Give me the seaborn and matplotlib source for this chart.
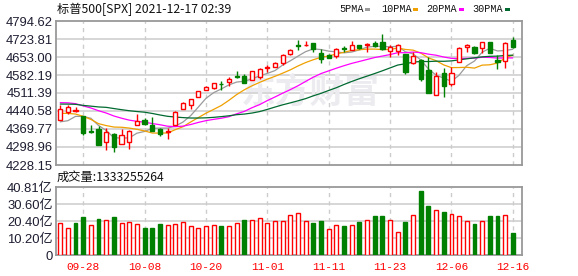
import numpy as np
import pandas as pd
import matplotlib
matplotlib.use("Agg")
import matplotlib.pyplot as plt
from matplotlib.patches import Rectangle
import seaborn as sns

# ---------------- data ----------------
dates = ["09-23", "09-24", "09-27", "09-28", "09-29", "09-30", "10-01", "10-04", "10-05", "10-06",
         "10-07", "10-08", "10-11", "10-12", "10-13", "10-14", "10-15", "10-18", "10-19", "10-20",
         "10-21", "10-22", "10-25", "10-26", "10-27", "10-28", "10-29", "11-01", "11-02", "11-03",
         "11-04", "11-05", "11-08", "11-09", "11-10", "11-11", "11-12", "11-15", "11-16", "11-17",
         "11-18", "11-19", "11-22", "11-23", "11-24", "11-26", "11-29", "11-30", "12-01", "12-02",
         "12-03", "12-06", "12-07", "12-08", "12-09", "12-10", "12-13", "12-14", "12-15", "12-16"]

opens = [4406.75, 4438.04, 4442.12, 4419.54, 4362.41, 4370.67, 4317.16, 4348.84, 4309.87, 4319.57,
         4383.73, 4406.51, 4385.44, 4368.31, 4358.01, 4386.75, 4447.69, 4463.72, 4497.34, 4524.42,
         4532.24, 4546.12, 4553.69, 4578.69, 4580.22, 4562.84, 4572.87, 4610.62, 4613.34, 4630.65,
         4662.93, 4699.26, 4701.48, 4707.25, 4670.26, 4659.39, 4655.24, 4689.30, 4679.42, 4701.50,
         4700.72, 4708.44, 4712.00, 4678.48, 4675.78, 4664.63, 4628.75, 4640.25, 4602.82, 4504.73,
         4589.49, 4548.37, 4631.97, 4690.86, 4691.00, 4687.64, 4710.30, 4642.99, 4636.46, 4719.13]

highs = [4465.40, 4463.12, 4457.30, 4419.54, 4385.57, 4382.55, 4375.19, 4355.51, 4369.23, 4365.57,
         4429.97, 4412.02, 4415.88, 4374.89, 4372.87, 4439.73, 4475.82, 4488.75, 4520.40, 4540.87,
         4551.44, 4559.67, 4572.62, 4598.53, 4584.57, 4597.55, 4608.08, 4620.34, 4635.15, 4663.46,
         4683.00, 4718.50, 4714.92, 4708.53, 4684.85, 4664.55, 4688.47, 4697.42, 4714.95, 4701.50,
         4708.80, 4717.75, 4743.83, 4699.39, 4702.87, 4664.63, 4672.95, 4646.02, 4652.94, 4595.46,
         4608.03, 4612.60, 4694.04, 4705.06, 4695.26, 4713.57, 4710.30, 4660.47, 4712.60, 4731.99]

lows = [4406.75, 4430.27, 4436.19, 4346.33, 4355.08, 4306.24, 4288.52, 4278.94, 4309.87, 4290.49,
        4383.73, 4386.22, 4360.59, 4342.09, 4329.92, 4386.75, 4447.69, 4447.47, 4496.41, 4524.40,
        4526.89, 4524.00, 4537.36, 4569.17, 4551.66, 4562.84, 4567.59, 4595.06, 4613.34, 4621.19,
        4662.59, 4681.32, 4694.39, 4670.87, 4630.86, 4648.31, 4650.77, 4672.86, 4679.42, 4684.41,
        4672.78, 4694.22, 4682.17, 4652.66, 4659.89, 4585.43, 4625.26, 4560.00, 4510.27, 4504.73,
        4495.12, 4540.51, 4631.97, 4674.52, 4665.98, 4670.24, 4667.60, 4606.52, 4611.22, 4687.00]

closes = [4448.98, 4455.48, 4443.11, 4352.63, 4359.46, 4307.54, 4357.04, 4300.46, 4345.72, 4363.55,
          4399.76, 4391.34, 4361.19, 4350.65, 4363.80, 4438.26, 4471.37, 4486.46, 4519.63, 4536.19,
          4549.78, 4544.90, 4566.48, 4574.79, 4551.68, 4596.42, 4605.38, 4613.67, 4630.65, 4660.57,
          4680.06, 4697.53, 4701.70, 4685.25, 4646.71, 4649.27, 4682.85, 4682.80, 4700.90, 4688.67,
          4704.54, 4697.96, 4682.94, 4690.70, 4701.46, 4594.62, 4655.27, 4567.00, 4513.04, 4577.10,
          4538.43, 4591.67, 4686.75, 4701.21, 4667.45, 4712.02, 4668.97, 4634.09, 4709.85, 4692.00]

# closes before the first visible day (needed for the moving averages)
prior_closes = [4460.83, 4468.00, 4479.71, 4448.08, 4400.27, 4405.80, 4441.67, 4479.53, 4486.23, 4496.19,
                4470.00, 4509.37, 4528.79, 4522.68, 4524.09, 4536.95, 4535.43, 4520.03, 4514.07, 4493.28,
                4458.58, 4468.73, 4443.05, 4480.70, 4473.75, 4432.99, 4357.73, 4354.19, 4395.64]

# volume in 亿 (1e8)
volumes = [19.0, 16.0, 19.2, 22.8, 18.0, 21.6, 20.8, 22.8, 19.2, 19.6,
           18.6, 16.2, 16.2, 18.6, 18.0, 18.6, 19.6, 17.2, 16.0, 17.4,
           18.0, 17.4, 17.4, 19.2, 21.0, 21.0, 22.0, 19.2, 20.2, 20.2,
           24.0, 25.0, 20.2, 19.2, 20.4, 15.4, 17.8, 17.4, 17.8, 19.8,
           20.8, 23.4, 23.4, 20.8, 13.8, 19.8, 23.8, 38.4, 29.4, 26.8,
           25.8, 24.4, 23.2, 20.2, 18.6, 20.2, 23.4, 23.4, 23.8, 13.33]
last_volume = 1333255264

tick_dates = ["09-28", "10-08", "10-20", "11-01", "11-11", "11-23", "12-06", "12-16"]
price_ticks = [4228.15, 4298.96, 4369.77, 4440.58, 4511.39, 4582.19, 4653.00, 4723.81, 4794.62]
vol_ticks = [0, 10.20, 20.40, 30.60, 40.81]
vol_tick_labels = ["0", "10.20亿", "20.40亿", "30.60亿", "40.81亿"]
ma_periods = [5, 10, 20, 30]
ma_names = ["5PMA", "10PMA", "20PMA", "30PMA"]
ma_colors = ["#9a9a9a", "#f0a000", "#ff00ff", "#006a30"]
title_text = "标普500[SPX] 2021-12-17 02:39"

# ---------------- style ----------------
sns.set_style("white")
plt.rcParams["font.family"] = ["Liberation Sans", "Noto Sans CJK SC", "DejaVu Sans"]

RED = "#ff0000"
GREEN = "#008000"
GRID = "#cccccc"
FRAME = "#999999"
LABEL = "#1e1e32"

W, H = 578, 276
fig = plt.figure(figsize=(W / 100, H / 100), dpi=100)
fig.patch.set_facecolor("white")


def fx(px):
    return px / W


def fy(py):
    return 1 - py / H


ax = fig.add_axes([fx(56), fy(165), fx(522 - 56), (165 - 21) / H])
axv = fig.add_axes([fx(56), fy(255), fx(522 - 56), (255 - 187) / H])

n = len(closes)
x = np.arange(n)
tick_idx = [dates.index(d) for d in tick_dates]

# moving averages
all_close = pd.Series(prior_closes + closes)
ma_frames = []
for p, name in zip(ma_periods, ma_names):
    ma = all_close.rolling(p).mean().iloc[-n:].to_numpy()
    ma_frames.append(pd.DataFrame({"idx": x, "value": ma, "ma": name}))
ma_long = pd.concat(ma_frames, ignore_index=True)

for a in (ax, axv):
    a.set_xlim(-0.55, n - 1 + 1.2)
    for s in a.spines.values():
        s.set_color(FRAME)
        s.set_linewidth(1.3)
    a.set_axisbelow(True)
    for t in tick_idx:
        a.axvline(t, color=GRID, lw=1.0, ls=(0, (3, 3)), zorder=0)
    a.tick_params(length=0)

# ---- main price axes ----
ax.set_ylim(price_ticks[0], price_ticks[-1])
for v in price_ticks[1:-1]:
    ax.axhline(v, color=GRID, lw=1.1, zorder=0)
ax.set_yticks(price_ticks)
ax.set_yticklabels([f"{v:.2f}" for v in price_ticks], fontsize=9.4, color=LABEL)
ax.tick_params(axis="y", pad=2.5)
ax.set_xticks([])

ax.text(0.545, 0.505, "东方财富", transform=ax.transAxes, ha="center", va="center",
        fontsize=25, fontweight="bold", color="#ececf0", zorder=0.5,
        family=["Noto Sans CJK SC"])

sns.lineplot(data=ma_long, x="idx", y="value", hue="ma", palette=dict(zip(ma_names, ma_colors)),
             legend=False, linewidth=0.9, ax=ax, zorder=2, estimator=None)

bw = 0.55
for i in range(n):
    o, h, l, c = opens[i], highs[i], lows[i], closes[i]
    top, bot = max(o, c), min(o, c)
    if c >= o:
        ax.vlines(i, top, h, color=RED, lw=1.0, zorder=3)
        ax.vlines(i, l, bot, color=RED, lw=1.0, zorder=3)
        ax.add_patch(Rectangle((i - bw / 2, bot), bw, max(top - bot, 0.01), facecolor="white",
                               edgecolor=RED, lw=1.0, zorder=4))
    else:
        ax.vlines(i, l, h, color=GREEN, lw=1.0, zorder=3)
        ax.add_patch(Rectangle((i - bw / 2, bot), bw, max(top - bot, 0.01), facecolor=GREEN,
                               edgecolor=GREEN, lw=1.0, zorder=4))
ax.set_xlabel("")
ax.set_ylabel("")

# ---- volume axes ----
axv.set_ylim(0, vol_ticks[-1])
for v in vol_ticks[1:-1]:
    axv.axhline(v, color=GRID, lw=1.1, zorder=0)
axv.set_yticks(vol_ticks)
axv.set_yticklabels(vol_tick_labels, fontsize=9.4, color=LABEL)
axv.tick_params(axis="y", pad=2.5)

prev = [prior_closes[-1]] + closes[:-1]
up = [c >= p for c, p in zip(closes, prev)]
face = ["white" if u else GREEN for u in up]
edge = [RED if u else GREEN for u in up]
axv.bar(x, volumes, width=0.5, color=face, edgecolor=edge, linewidth=1.0, zorder=3)
axv.set_xticks(tick_idx)
axv.set_xticklabels(tick_dates, fontsize=8, color=RED, family=["Liberation Mono"])
axv.tick_params(axis="x", pad=5)

# ---- header texts ----
fig.text(fx(57), fy(9.5), title_text, ha="left", va="center", fontsize=8.8,
         family=["Noto Sans CJK SC"], color="#111111")
fig.text(fx(57), fy(177), f"成交量:{last_volume}", ha="left", va="center", fontsize=8.8,
         family=["Noto Sans CJK SC"], color="#111111")

legend_pos = [(339, 365), (381, 413), (426, 459), (472, 505)]
for (tx, sx), name, col in zip(legend_pos, ma_names, ma_colors):
    fig.text(fx(tx), fy(9.5), name, ha="left", va="center", fontsize=7.3,
             family=["Liberation Mono"], color="#111111")
    fig.add_artist(Rectangle((fx(sx), fy(11)), fx(5), 3.5 / H, transform=fig.transFigure,
                             facecolor=col, edgecolor="none"))

fig.savefig("out.png", dpi=100, facecolor="white")
